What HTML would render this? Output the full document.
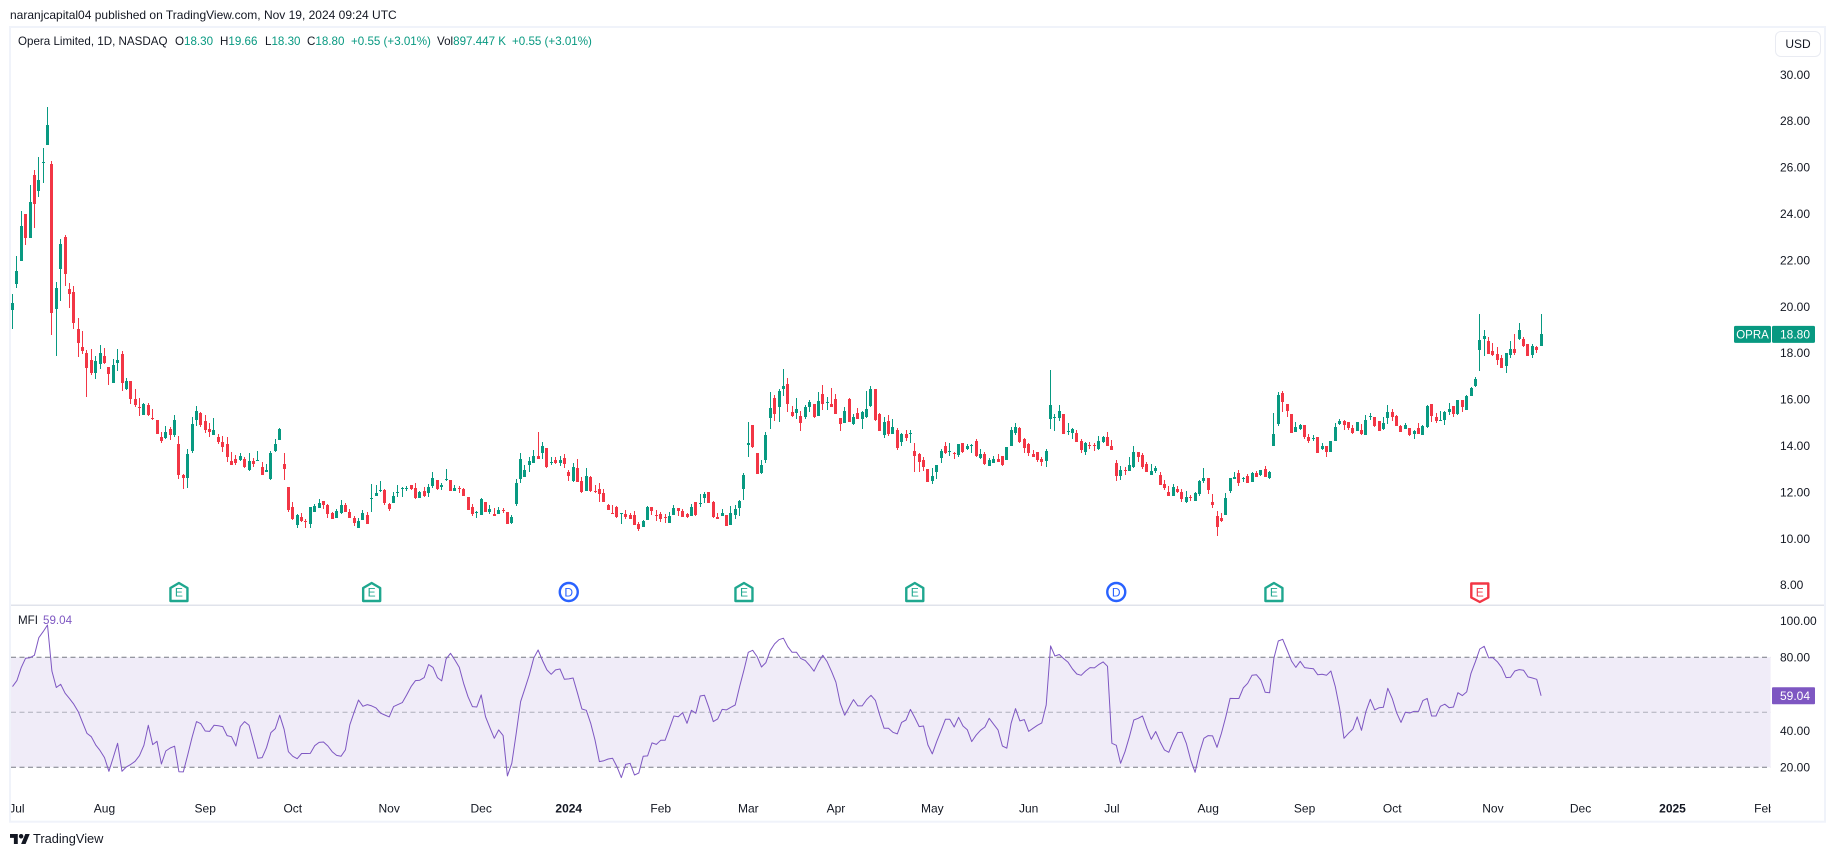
<!DOCTYPE html>
<html lang="en">
<head>
<meta charset="utf-8">
<title>Opera Limited 1D chart</title>
<style>
  html, body { margin: 0; padding: 0; background: #fff; }
  #page { position: relative; width: 1835px; height: 857px; overflow: hidden; background: #fff;
          font-family: "Liberation Sans", sans-serif; font-size: 12px; color: #131722; }
  #page div.t { position: absolute; white-space: nowrap; line-height: 14px; }
  #page div.l { font-size: 11.6px; }
  .g { color: #089981; }
  svg { position: absolute; left: 0; top: 0; }
  svg text { font-family: "Liberation Sans", sans-serif; font-size: 12px; fill: #131722; }
</style>
</head>
<body>
<div id="page">
  <svg id="chart" width="1835" height="857" viewBox="0 0 1835 857">
    <defs>
      <clipPath id="time-clip"><rect x="11" y="790" width="1759.6" height="30"></rect></clipPath>
    </defs>
    <rect x="10" y="27" width="1815" height="794.7" fill="none" stroke="#f0f3fa" stroke-width="2"></rect>
    <rect x="11" y="604.5" width="1813" height="1.5" fill="#e0e3eb"></rect>
    <g id="mfi-pane"></g>
    <g id="candles"></g>
    <g id="markers"></g>
    <g id="axes"></g>
    <g transform="translate(10,831.8) scale(0.556)" fill="#131722">
      <path d="M14 22H7V11H0V4h14v18zM28 22h-8l7.5-18h8L28 22z"></path>
      <circle cx="20" cy="8" r="4"></circle>
    </g>
  </svg>

  <div class="t" style="left:10px;top:8px">naranjcapital04 published on TradingView.com, Nov 19, 2024 09:24 UTC</div>

  <div class="t l" style="left:18px;top:35px">Opera Limited, 1D, NASDAQ</div>
  <div class="t l" style="left:175px;top:35px">O<span class="g">18.30</span></div>
  <div class="t l" style="left:220px;top:35px">H<span class="g">19.66</span></div>
  <div class="t l" style="left:265px;top:35px">L<span class="g">18.30</span></div>
  <div class="t l" style="left:307px;top:35px">C<span class="g">18.80</span></div>
  <div class="t l g" style="left:351px;top:35px">+0.55 (+3.01%)</div>
  <div class="t l" style="left:437px;top:35px">Vol<span class="g">897.447 K</span></div>
  <div class="t l g" style="left:512px;top:35px">+0.55 (+3.01%)</div>

  <div class="t l" style="left:18px;top:614px">MFI</div>
  <div class="t l" style="left:43px;top:614px;color:#7e57c2">59.04</div>

  <div class="t" style="left:1775px;top:31px;width:44px;height:24px;border:1.5px solid #e9ebf2;border-radius:6px;line-height:25px;text-align:center">USD</div>

  <div class="t" style="left:33px;top:831px;font-size:12.8px;line-height:16px">TradingView</div>
</div>

<script>
const highs = [
20.54,22.17,24.11,23.99,25.24,25.88,26.44,26.83,28.60,26.27,
21.05,22.91,23.08,21.01,20.88,19.50,18.94,18.12,18.17,17.86,
18.34,18.21,17.39,17.74,18.17,18.08,16.92,16.79,16.44,16.05,
15.84,15.84,15.58,15.11,14.59,14.85,14.80,15.32,14.42,12.78,
13.86,15.24,15.71,15.45,15.32,14.98,15.19,14.50,14.42,14.37,
13.73,13.60,13.68,13.51,13.68,13.47,13.77,13.30,13.21,13.77,
14.29,14.76,13.68,12.22,11.57,11.05,11.10,10.84,11.36,11.49,
11.70,11.62,11.49,11.14,11.27,11.66,11.53,11.27,10.97,10.88,
11.23,11.14,12.35,12.31,12.48,12.13,11.53,12.00,12.31,12.22,
12.26,12.31,12.39,12.05,12.22,12.35,12.87,12.52,12.39,13.00,
12.52,12.31,12.26,12.18,11.79,11.49,11.19,11.75,11.57,11.44,
11.31,11.36,11.31,11.14,11.01,12.56,13.69,13.17,13.51,13.81,
14.59,14.16,13.90,13.51,13.51,13.56,13.64,12.95,13.25,13.43,
12.65,13.04,12.69,12.31,12.39,12.13,11.49,11.44,11.40,11.10,
11.23,11.10,11.19,10.71,10.80,11.40,11.36,11.23,11.14,11.06,
11.14,11.44,11.31,11.27,11.10,11.49,11.57,11.92,12.00,12.00,
11.62,11.10,11.27,11.01,11.40,11.44,11.66,12.82,15.02,14.89,
13.69,13.38,14.59,16.31,16.18,16.44,17.30,16.91,15.71,16.05,
15.49,15.75,15.97,15.80,16.31,16.61,16.10,16.49,16.23,15.19,
15.67,16.05,15.36,15.62,15.49,16.35,16.57,16.44,15.41,15.23,
15.32,15.15,14.76,14.55,14.68,14.68,14.12,13.68,13.51,12.99,
13.04,13.17,13.86,14.16,14.12,13.73,14.07,14.12,14.07,14.07,
14.29,13.86,13.73,13.47,13.56,13.64,13.56,13.94,14.81,14.98,
14.81,14.33,14.12,13.82,13.73,13.51,13.86,17.26,15.37,15.75,
15.37,14.98,14.76,14.68,14.29,14.16,14.16,14.12,14.42,14.42,
14.59,14.25,13.38,13.12,13.08,13.51,13.99,13.73,13.69,13.30,
13.21,13.12,12.87,12.52,12.26,12.35,12.26,12.13,12.05,11.87,
12.00,12.52,13.04,12.61,11.92,11.18,11.10,11.96,12.61,12.87,
12.95,12.65,12.78,12.87,12.91,12.95,13.12,12.91,15.41,16.31,
16.36,15.80,15.37,15.02,14.94,14.89,14.50,14.46,14.37,14.12,
13.99,14.20,14.98,15.15,15.11,15.02,14.89,15.02,14.94,15.32,
15.41,15.24,15.06,15.24,15.75,15.58,15.32,14.89,14.98,14.76,
14.68,14.98,14.89,15.75,15.80,15.41,15.50,15.50,15.84,15.71,
15.97,15.97,16.19,16.53,16.96,19.68,18.99,18.69,18.43,18.25,
17.91,18.00,18.51,18.81,19.29,18.69,18.38,18.38,18.30,19.66
];
const lows = [
19.03,20.80,21.96,22.65,22.95,23.38,24.72,25.32,26.96,18.77,
17.86,20.24,20.88,19.93,19.03,17.82,17.95,16.10,17.05,16.87,
17.30,17.52,16.61,16.70,17.22,16.36,16.40,15.80,15.67,15.28,
15.32,15.28,15.11,14.50,14.11,14.29,14.24,14.37,12.56,12.13,
12.17,13.68,14.85,14.80,14.55,14.37,14.46,14.07,13.73,13.30,
13.17,13.17,13.34,13.04,12.91,13.08,13.34,12.74,12.86,12.52,
13.73,14.24,12.52,11.14,10.79,10.45,10.71,10.45,10.45,11.14,
11.31,11.27,10.88,10.84,10.88,11.06,11.14,10.88,10.54,10.45,
10.80,10.63,11.14,11.83,12.00,11.44,11.19,11.53,11.79,11.79,
12.05,12.09,11.70,11.75,11.79,11.79,12.18,12.09,12.09,12.48,
12.05,12.05,11.96,11.83,11.23,10.97,10.88,11.01,11.14,11.06,
10.97,11.06,11.10,10.63,10.63,11.40,12.39,12.65,12.87,13.25,
13.43,13.43,13.04,13.17,13.21,13.13,13.04,12.48,12.44,12.44,
11.96,12.05,12.00,11.96,11.57,11.57,11.23,11.06,10.88,10.63,
10.84,10.84,10.58,10.32,10.50,10.80,11.01,10.75,10.71,10.67,
10.67,11.01,10.97,10.93,10.88,10.97,10.97,11.36,11.53,11.53,
10.88,10.84,10.97,10.54,10.58,10.84,10.97,11.66,13.51,13.90,
12.78,12.78,13.25,14.72,15.06,15.02,16.14,15.45,15.23,15.15,
14.63,15.15,15.45,15.19,15.28,15.54,15.54,15.67,15.36,14.63,
14.98,15.02,14.89,15.15,14.72,15.19,15.67,15.06,14.63,14.33,
14.42,14.50,13.82,13.99,14.20,14.12,12.87,12.87,12.91,12.43,
12.35,12.56,13.25,13.64,13.56,13.43,13.51,13.69,13.82,13.69,
13.51,13.43,13.17,13.12,13.25,13.30,13.12,13.38,13.99,14.46,
14.12,13.69,13.56,13.51,13.30,13.12,13.08,14.72,14.63,15.06,
14.50,14.46,14.29,14.16,13.69,13.60,13.86,13.77,13.82,14.12,
13.99,13.82,12.48,12.52,12.74,12.91,13.04,13.30,12.99,12.87,
12.74,12.82,12.31,12.09,11.83,11.83,11.96,11.57,11.53,11.62,
11.62,11.83,12.39,11.92,11.31,10.11,10.71,11.01,11.96,12.56,
12.26,12.44,12.39,12.44,12.65,12.69,12.65,12.56,13.99,14.85,
15.45,15.24,14.55,14.59,14.68,14.29,14.12,14.20,13.69,13.81,
13.51,13.73,14.20,14.89,14.68,14.68,14.50,14.63,14.46,14.46,
15.11,14.81,14.63,14.68,14.94,15.06,14.85,14.59,14.72,14.42,
14.29,14.50,14.46,14.76,15.02,14.98,15.06,14.89,15.32,15.24,
15.32,15.45,15.54,16.14,16.53,17.22,17.87,17.95,17.87,17.48,
17.35,17.13,17.78,17.91,18.56,18.25,17.87,17.78,17.99,18.30
];
const opens = [
19.85,20.97,21.96,23.99,22.95,25.67,24.98,26.20,26.96,26.14,
19.89,21.61,22.99,20.75,20.62,19.03,18.25,17.99,17.69,17.13,
17.52,17.86,17.39,16.70,17.56,17.95,16.44,16.79,16.01,15.67,
15.32,15.75,15.19,15.11,14.37,14.33,14.72,14.46,14.07,12.74,
12.61,13.77,15.11,15.41,15.06,14.72,14.46,14.37,14.16,14.07,
13.34,13.42,13.38,13.42,12.95,13.34,13.35,13.08,12.86,12.56,
13.77,14.24,13.21,12.22,11.36,10.58,10.93,10.75,10.63,11.14,
11.31,11.62,11.44,11.10,10.88,11.10,11.44,11.14,10.88,10.45,
10.80,11.01,11.72,11.83,12.05,12.09,11.49,11.53,11.98,12.15,
12.15,12.31,12.18,11.75,12.05,11.96,12.26,12.52,12.22,12.52,
12.52,12.05,12.18,12.13,11.79,11.36,11.11,11.01,11.57,11.14,
11.06,11.06,11.23,11.14,10.67,11.49,12.56,12.65,13.17,13.25,
13.56,13.69,13.90,13.24,13.38,13.24,13.47,12.87,12.48,13.04,
12.48,12.05,12.65,12.05,12.13,11.96,11.44,11.10,11.36,11.06,
11.06,11.01,11.01,10.63,10.50,10.80,11.36,11.01,11.06,10.93,
10.67,11.01,11.31,11.19,11.06,10.97,11.57,11.50,11.75,12.00,
11.57,10.93,10.97,11.01,10.58,11.01,11.31,12.13,14.04,14.89,
13.69,12.82,13.38,15.19,16.05,15.67,16.44,16.66,15.45,15.41,
15.28,15.23,15.67,15.80,15.28,16.23,15.85,15.80,16.01,15.19,
14.98,16.01,14.94,15.41,15.15,15.23,15.71,16.44,15.37,14.46,
15.06,14.50,14.68,14.16,14.50,14.52,13.77,13.64,13.38,12.99,
12.48,12.87,13.47,13.99,13.74,13.69,13.60,14.12,13.86,14.02,
14.20,13.47,13.64,13.12,13.25,13.43,13.56,13.38,13.99,14.55,
14.76,14.29,14.07,13.64,13.73,13.43,13.34,15.15,15.21,15.19,
15.37,14.61,14.55,14.55,14.20,13.73,14.03,14.03,13.86,14.16,
14.37,13.99,13.25,12.69,12.95,12.91,13.08,13.73,13.60,13.21,
12.74,12.91,12.74,12.35,12.00,11.83,12.13,12.00,11.57,11.79,
11.62,11.92,12.48,12.61,11.57,10.97,10.88,11.01,12.05,12.56,
12.82,12.56,12.69,12.44,12.82,12.74,13.00,12.61,13.99,14.94,
16.27,15.80,15.37,14.59,14.72,14.89,14.37,14.30,14.37,13.86,
13.99,13.73,14.20,14.94,15.06,15.02,14.76,14.63,14.68,14.46,
15.24,15.24,15.06,14.72,15.19,15.45,15.28,14.85,14.72,14.76,
14.50,14.76,14.46,14.81,15.80,15.24,15.08,15.11,15.45,15.71,
15.37,15.97,15.54,16.14,16.57,18.12,18.60,18.51,18.08,17.95,
17.78,17.44,17.91,18.17,18.60,18.60,18.38,17.91,18.25,18.30
];
const closes = [
20.15,21.53,23.47,22.95,24.50,24.42,25.45,26.23,27.82,19.72,
20.80,22.69,21.40,20.54,19.29,18.42,18.08,17.35,17.13,17.65,
17.99,17.56,17.09,17.48,17.69,16.70,16.79,16.01,15.75,15.62,
15.80,15.32,15.15,14.50,14.20,14.59,14.46,15.11,12.74,12.61,
13.64,14.93,15.49,14.89,14.67,14.59,14.67,14.16,13.94,13.51,
13.17,13.25,13.55,13.08,13.34,13.21,13.38,12.74,12.95,13.68,
14.07,14.72,12.99,11.23,10.84,11.01,10.75,10.74,11.36,11.40,
11.53,11.44,11.06,10.84,11.19,11.44,11.14,10.88,10.67,10.75,
11.10,10.63,11.75,11.96,12.09,11.53,11.27,11.83,12.00,12.18,
12.18,12.13,11.75,12.00,11.83,12.22,12.61,12.13,12.31,12.55,
12.05,12.18,12.15,11.83,11.23,11.06,11.14,11.70,11.14,11.27,
10.97,11.23,11.20,10.63,10.93,12.39,13.43,12.95,13.34,13.56,
13.43,13.99,13.08,13.30,13.25,13.38,13.21,12.69,13.08,12.44,
12.00,12.69,12.05,12.02,11.92,11.57,11.23,11.07,10.93,11.09,
10.93,10.84,10.58,10.41,10.75,11.36,11.19,10.98,10.84,10.90,
10.97,11.31,11.19,10.93,10.93,11.36,11.01,11.53,11.92,11.53,
10.93,10.84,11.10,10.54,11.10,11.27,11.62,12.74,14.12,13.94,
12.78,13.17,14.46,15.62,15.36,16.35,16.57,15.80,15.28,15.58,
14.98,15.67,15.88,15.23,15.93,15.80,15.88,15.67,15.36,14.94,
15.49,15.02,15.23,15.15,15.45,15.58,16.44,15.11,14.63,15.02,
14.50,14.81,13.90,14.50,14.33,14.55,13.56,13.30,13.08,12.43,
12.69,13.17,13.77,13.69,13.77,13.64,14.07,13.73,13.99,14.03,
13.56,13.64,13.21,13.38,13.43,13.30,13.17,13.94,14.68,14.81,
14.16,13.90,13.69,13.51,13.38,13.30,13.77,15.75,15.23,15.49,
14.50,14.63,14.72,14.16,13.82,14.12,13.99,14.00,14.20,14.37,
13.99,13.82,12.69,12.95,12.92,13.17,13.73,13.51,13.08,12.87,
12.91,13.04,12.31,12.18,11.83,12.22,12.00,11.70,11.79,11.76,
11.96,12.48,12.61,12.09,11.44,10.50,10.75,11.75,12.61,12.65,
12.39,12.61,12.39,12.82,12.65,12.95,12.65,12.87,14.50,16.19,
15.88,15.50,14.55,14.81,14.89,14.37,14.20,14.33,13.69,13.99,
13.73,14.20,14.81,15.06,14.89,14.76,14.55,15.02,14.50,15.11,
15.28,14.85,14.63,14.98,15.45,15.24,14.85,14.59,14.89,14.46,
14.63,14.50,14.85,15.71,15.28,15.06,15.11,15.45,15.58,15.37,
15.97,15.67,16.14,16.49,16.87,18.56,18.73,17.95,17.91,17.69,
17.35,18.00,18.17,18.00,18.99,18.30,17.87,18.30,18.12,18.80
];
const mfiValues = [
64.0,67.3,74.5,79.5,79.8,81.1,90.7,94.0,97.6,72.5,
63.5,65.3,60.4,57.6,54.4,50.4,44.4,38.5,36.7,32.2,
29.1,25.3,17.8,25.3,33.1,17.8,20.2,21.6,23.3,26.4,
32.0,42.9,32.4,34.2,21.8,28.9,30.5,31.5,17.6,17.5,
26.7,36.4,44.9,43.8,39.8,39.6,42.9,42.7,42.2,37.3,
36.7,31.6,42.2,44.9,42.9,34.0,24.9,25.3,30.7,38.9,
41.1,48.4,40.7,28.5,26.0,24.7,27.5,27.5,27.6,31.8,
33.6,33.8,31.6,28.5,26.5,26.0,29.5,43.1,50.0,56.7,
53.3,54.2,53.5,52.4,49.6,48.5,47.5,53.1,54.2,55.3,
59.5,64.0,67.3,67.5,68.9,76.0,74.5,68.9,67.1,79.1,
82.2,78.5,74.5,65.8,58.5,53.1,52.9,59.5,47.6,41.6,
35.8,40.4,37.3,15.3,22.2,38.5,55.8,63.1,70.4,79.5,
84.0,78.2,73.1,70.7,73.1,73.6,68.0,68.2,68.7,60.4,
51.8,51.1,44.0,34.9,23.1,23.6,24.5,24.9,20.4,
14.4,21.6,22.2,15.8,16.9,26.0,26.2,33.3,32.5,34.7,
34.7,41.3,48.0,47.6,49.8,44.0,51.1,49.5,58.9,59.3,
52.5,44.9,46.4,51.6,51.3,52.7,54.0,64.0,73.1,82.7,
83.8,80.4,74.7,77.1,83.6,87.3,89.6,90.4,85.8,82.7,
82.7,79.3,78.2,75.5,72.4,77.3,81.1,77.5,72.2,66.4,
54.9,48.4,52.7,56.9,53.5,53.5,56.9,59.3,56.5,48.5,
41.3,41.3,39.1,38.2,44.5,45.8,51.6,47.1,42.2,42.5,
32.2,27.3,34.0,40.0,46.2,46.2,42.0,47.3,42.5,40.5,
34.0,37.5,40.2,42.0,46.7,43.5,40.4,31.6,30.4,44.0,
52.0,45.3,46.0,39.6,41.3,42.9,44.2,54.0,86.2,80.7,
81.5,79.3,77.3,73.6,70.9,70.2,72.5,74.4,74.2,76.0,
77.5,75.1,33.1,32.0,22.2,28.5,36.7,45.8,46.7,48.0,
41.3,35.3,39.5,34.0,29.5,28.2,34.0,38.9,39.1,33.1,
24.0,17.3,28.0,35.8,37.3,37.1,
30.9,38.5,47.6,57.6,57.5,57.5,63.3,65.8,70.2,70.5,
67.6,60.9,60.7,79.5,88.9,89.8,84.0,78.0,74.5,77.8,
74.4,74.0,73.8,70.5,70.7,70.2,72.5,64.0,52.2,35.8,
38.5,40.7,47.5,40.2,50.4,57.1,51.3,52.5,52.7,63.1,
57.6,49.8,44.5,50.0,49.6,50.5,50.5,56.4,57.6,48.0,
48.0,53.3,54.4,52.5,52.9,60.7,59.1,61.1,71.3,77.6,
84.5,86.0,79.8,79.8,77.6,74.4,68.9,69.1,72.5,73.3,
72.9,69.3,68.7,68.0,59.04
];
const priceTicks = [30, 28, 26, 24, 22, 20, 18, 16, 14, 12, 10, 8];
const mfiTicks = [100, 80, 40, 20];
const mfiBands = [80, 50, 20];
const timeLabels = ['Jul','Aug','Sep','Oct','Nov','Dec','2024','Feb','Mar','Apr','May','Jun','Jul','Aug','Sep','Oct','Nov','Dec','2025','Feb'];
const timeIndexes = [1,21,44,64,86,107,127,148,168,188,210,232,251,273,295,315,338,358,379,400];
const eventIndexes = [38,82,127,167,206,252,288,335];
const eventKinds = ['E','E','D','E','E','D','E','X'];

const NS = 'http://www.w3.org/2000/svg';
const xOf = i => 12.5 + 4.38 * i;
const yPrice = p => 306.5 + (20 - p) * 23.2;
const yMfi = v => 767.3 - (v - 20) * (110 / 60);
const GREEN = '#089981', RED = '#f23645', PURPLE = '#7e57c2';
const mk = (tag, parent) => { const n = document.createElementNS(NS, tag); parent.appendChild(n); return n; };

/* MFI pane */
const mfiPane = document.getElementById('mfi-pane');
const band = mk('rect', mfiPane);


band.setAttribute('x', 11);
band.setAttribute('y', yMfi(80));
band.setAttribute('width', 1759.6);
band.setAttribute('height', yMfi(20) - yMfi(80));
band.setAttribute('fill', 'rgba(126,87,194,0.115)');
mfiBands.forEach(v => {
  const ln = mk('line', mfiPane);
  
  
  ln.setAttribute('x1', 11);
  ln.setAttribute('x2', 1770.6);
  ln.setAttribute('y1', yMfi(v));
  ln.setAttribute('y2', yMfi(v));
  ln.setAttribute('stroke', v === 50 ? 'rgba(120,123,134,0.55)' : '#787b86');
  ln.setAttribute('stroke-dasharray', '5 3.5');
  ln.setAttribute('stroke-width', 1);
});
const mfiLine = mk('polyline', mfiPane);


mfiLine.setAttribute('fill', 'none');
mfiLine.setAttribute('stroke', PURPLE);
mfiLine.setAttribute('stroke-width', 1);
mfiLine.setAttribute('stroke-linejoin', 'round');
mfiLine.setAttribute('points', mfiValues.map((v, i) => xOf(i).toFixed(1) + ',' + yMfi(v).toFixed(1)).join(' '));

/* Candles */
const candleGroup = document.getElementById('candles');
closes.forEach((c, i) => {
  const o = opens[i];
  const col = c >= o ? GREEN : RED;
  const cx = Math.floor(xOf(i));
  const wick = mk('rect', candleGroup);
  
  
  wick.setAttribute('shape-rendering', 'crispEdges');
  wick.setAttribute('x', cx);
  wick.setAttribute('width', 1);
  wick.setAttribute('y', Math.round(yPrice(highs[i])));
  wick.setAttribute('height', Math.max(1, Math.round(yPrice(lows[i])) - Math.round(yPrice(highs[i]))));
  wick.setAttribute('fill', col);
  const body = mk('rect', candleGroup);
  
  
  body.setAttribute('shape-rendering', 'crispEdges');
  const top = Math.round(yPrice(Math.max(o, c)));
  const bot = Math.round(yPrice(Math.min(o, c)));
  body.setAttribute('x', cx - 1);
  body.setAttribute('width', 3);
  body.setAttribute('y', top);
  body.setAttribute('height', Math.max(1, bot - top));
  body.setAttribute('fill', col);
});

/* Event markers */
const markerGroup = document.getElementById('markers');
eventIndexes.forEach((idx, k) => {
  const kind = eventKinds[k];
  const x = xOf(idx);
  const col = kind === 'D' ? '#2962ff' : (kind === 'X' ? '#f23645' : '#1fa78f');
  if (kind === 'D') {
    const ring = mk('circle', markerGroup);
    
    
    ring.setAttribute('cx', x);
    ring.setAttribute('cy', 592);
    ring.setAttribute('r', 9);
    ring.setAttribute('fill', '#fff');
    ring.setAttribute('stroke', col);
    ring.setAttribute('stroke-width', 2.4);
  } else {
    const house = mk('polygon', markerGroup);
    
    
    const pts = kind === 'X'
      ? [[-8.5,-8.5],[8.5,-8.5],[8.5,5.5],[0,10],[-8.5,5.5]]
      : [[-8.5,-4],[0,-9],[8.5,-4],[8.5,9],[-8.5,9]];
    house.setAttribute('points', pts.map(p => (x + p[0]) + ',' + (592 + p[1])).join(' '));
    house.setAttribute('fill', '#fff');
    house.setAttribute('stroke', col);
    house.setAttribute('stroke-width', 2.4);
    house.setAttribute('stroke-linejoin', 'round');
  }
  const letter = mk('text', markerGroup);
  
  
  letter.setAttribute('x', x);
  letter.setAttribute('y', 596.5);
  letter.setAttribute('text-anchor', 'middle');
  letter.style.fontSize = '12px';
  letter.style.fill = col;
  letter.textContent = kind === 'D' ? 'D' : 'E';
});

/* Axes */
const axes = document.getElementById('axes');
priceTicks.forEach(p => {
  const t = mk('text', axes);
  
  
  t.setAttribute('x', 1780);
  t.setAttribute('y', yPrice(p) + 4.3);
  t.textContent = p.toFixed(2);
});
mfiTicks.forEach(v => {
  const t = mk('text', axes);
  
  
  t.setAttribute('x', 1780);
  t.setAttribute('y', yMfi(v) + 4.3);
  t.textContent = v.toFixed(2);
});
const timeGroup = mk('g', axes);


timeGroup.setAttribute('clip-path', 'url(#time-clip)');
timeLabels.forEach((lab, k) => {
  const t = mk('text', timeGroup);
  
  
  t.setAttribute('x', xOf(timeIndexes[k]));
  t.setAttribute('y', 812.5);
  t.setAttribute('text-anchor', 'middle');
  if (/^\d{4}$/.test(lab)) t.style.fontWeight = 'bold';
  t.textContent = lab;
});

/* Last value tags */
const lastClose = closes[closes.length - 1];
const lastMfi = mfiValues[mfiValues.length - 1];
const tagY = yPrice(lastClose);
const symTag = mk('rect', axes);


symTag.setAttribute('x', 1734);
symTag.setAttribute('y', tagY - 8.5);
symTag.setAttribute('width', 37);
symTag.setAttribute('height', 17);
symTag.setAttribute('rx', 1.5);
symTag.setAttribute('fill', GREEN);
const symText = mk('text', axes);


symText.setAttribute('x', 1752.5);
symText.setAttribute('y', tagY + 4.3);
symText.setAttribute('text-anchor', 'middle');
symText.style.fill = '#fff';
symText.style.fontSize = '11.5px';
symText.textContent = 'OPRA';
const priceTag = mk('rect', axes);


priceTag.setAttribute('x', 1772);
priceTag.setAttribute('y', tagY - 8.5);
priceTag.setAttribute('width', 43);
priceTag.setAttribute('height', 17);
priceTag.setAttribute('rx', 1.5);
priceTag.setAttribute('fill', GREEN);
const priceText = mk('text', axes);


priceText.setAttribute('x', 1780);
priceText.setAttribute('y', tagY + 4.3);
priceText.style.fill = '#fff';
priceText.textContent = lastClose.toFixed(2);
const mfiTagY = yMfi(lastMfi);
const mfiTag = mk('rect', axes);


mfiTag.setAttribute('x', 1772);
mfiTag.setAttribute('y', mfiTagY - 8.5);
mfiTag.setAttribute('width', 43);
mfiTag.setAttribute('height', 17);
mfiTag.setAttribute('rx', 1);
mfiTag.setAttribute('fill', PURPLE);
const mfiText = mk('text', axes);


mfiText.setAttribute('x', 1780);
mfiText.setAttribute('y', mfiTagY + 4.3);
mfiText.style.fill = '#fff';
mfiText.textContent = lastMfi.toFixed(2);
</script>
</body>
</html>
